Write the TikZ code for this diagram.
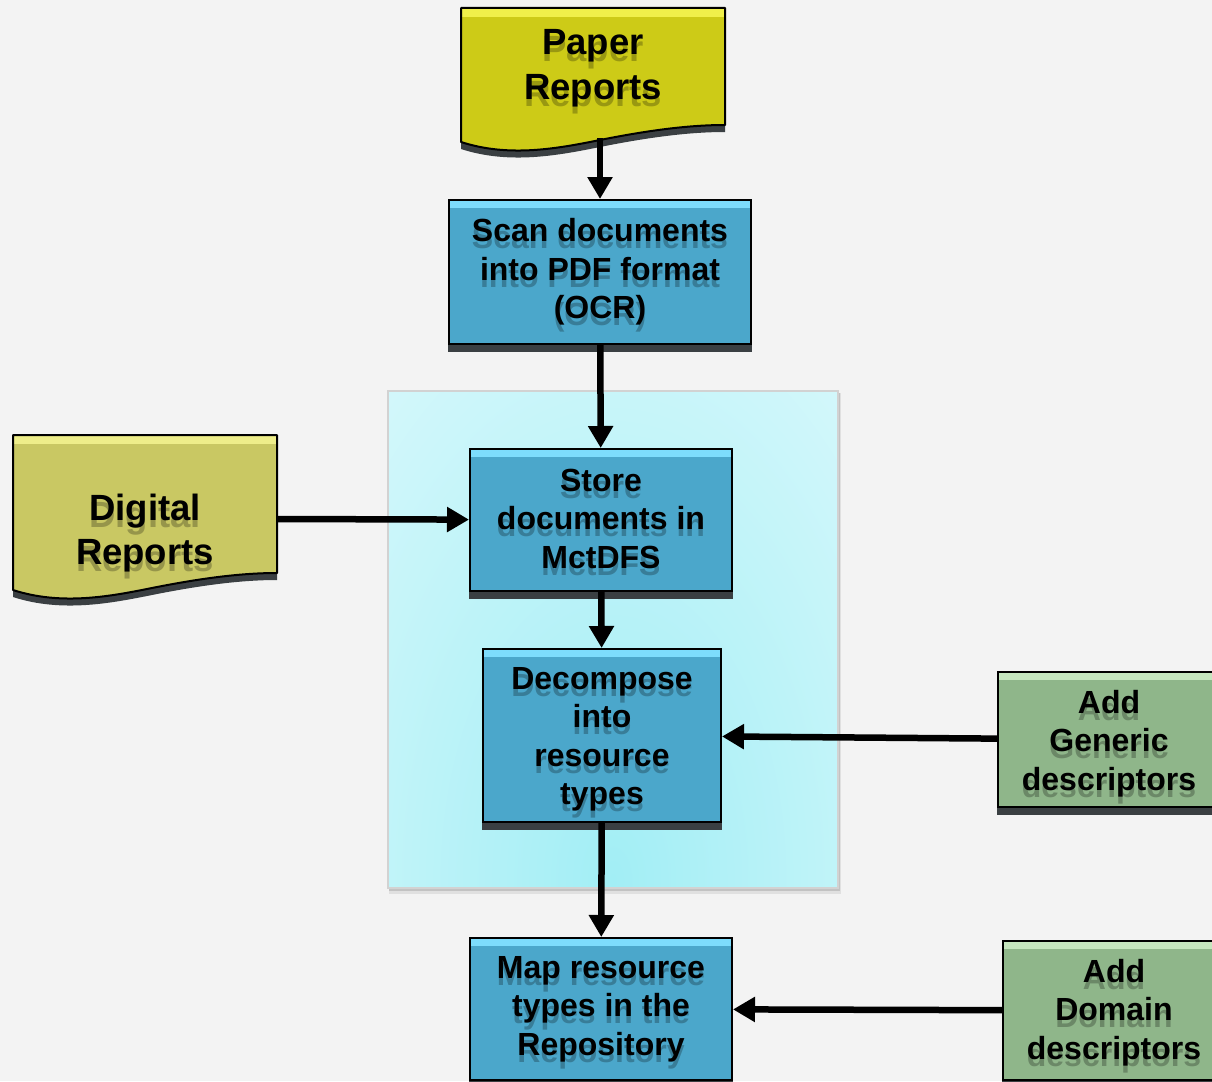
\documentclass[tikz,border=0pt]{standalone}
\usepackage{fontspec}
\setmainfont{Liberation Sans}
\usetikzlibrary{arrows.meta}

\definecolor{pagebg}{HTML}{F3F3F3}
\definecolor{procfill}{HTML}{4BA7CB}
\definecolor{prochi}{HTML}{7DDCFC}
\definecolor{paperfill}{HTML}{CDCB17}
\definecolor{paperhi}{HTML}{F0F04A}
\definecolor{digifill}{HTML}{C9C863}
\definecolor{digihi}{HTML}{EEEE8A}
\definecolor{descfill}{HTML}{8FB68A}
\definecolor{deschi}{HTML}{C5E6BE}
\definecolor{dropshade}{HTML}{3A3F42}
\definecolor{panelin}{HTML}{A2EEF5}
\definecolor{panelout}{HTML}{E6FBFD}
\definecolor{panelrim}{HTML}{D2D2D2}

\pgfdeclarelayer{backdrop}
\pgfdeclarelayer{shadows}
\pgfsetlayers{backdrop,shadows,main}

\tikzset{
  flowarrow/.style={line width=6.5pt, -{Triangle[width=24pt,length=22pt]}},
  bigfont/.style={font=\bfseries\fontsize{36.5}{44.5}\selectfont},
  smallfont/.style={font=\bfseries\fontsize{32}{38.5}\selectfont},
  boxbase/.style={draw=black, line width=2pt, inner sep=0pt},
  striped/.style={path picture={\fill[#1] (path picture bounding box.north west)
      rectangle ([yshift=-8pt]path picture bounding box.north east);}},
  procbox/.style={boxbase, fill=procfill, striped=prochi},
  descbox/.style={boxbase, fill=descfill, striped=deschi},
  echo/.style={align=center, inner sep=0pt, text=black, text opacity=0.25},
  boxtext/.style={align=center, inner sep=0pt, smallfont},
  doctext/.style={align=center, inner sep=0pt, bigfont},
  boxshadow/.style={fill=dropshade},
}

% box, its drop shadow, its text and the text's faded echo
% #1 style, #2 name, #3 #4 centre, #5 #6 size, #7 text offset, #8 text
\newcommand\flowbox[8]{%
  \node[#1, minimum width=#5pt, minimum height=#6pt] (#2) at (#3,#4) {};
  \begin{pgfonlayer}{shadows}
    \fill[boxshadow] ([yshift=-7pt]#2.south west) rectangle (#2.north east);
  \end{pgfonlayer}
  \node[echo, smallfont] (#2-echo) at (#3,#4+#7+7) {#8};
  \node[boxtext] (#2-text) at (#3,#4+#7) {#8};}

% document outline: left x, top y, bottom-left y
\newcommand\docoutline[3]{(#1,#2) -- (#1+264,#2) -- (#1+264,#3-17)
  .. controls (#1+229,#3-17) and (#1+189,#3-12) .. (#1+139,#3-2)
  .. controls (#1+99,#3+6) and (#1+49,#3+16) .. (#1,#3) -- cycle}

\newcommand\docshape[5]{%
  \begin{pgfonlayer}{shadows}
    \fill[boxshadow, yshift=-7pt] \docoutline{#1}{#2}{#3};
  \end{pgfonlayer}
  \fill[#4] \docoutline{#1}{#2}{#3};
  \begin{scope}
    \clip \docoutline{#1}{#2}{#3};
    \fill[#5] (#1,#2) rectangle (#1+264,#2+9);
  \end{scope}
  \draw[line width=2pt, line join=round] \docoutline{#1}{#2}{#3};}

\begin{document}
\begin{tikzpicture}[x=1pt, y=-1pt]
\useasboundingbox (0,0) rectangle (1212,1081);
\clip (0,0) rectangle (1212,1081);

% page and the storage panel
\begin{pgfonlayer}{backdrop}
  \fill[pagebg] (0,0) rectangle (1212,1081);
  \fill[black!12] (389,393) rectangle (841,894);
  \fill[black!24] (389,393) rectangle (840,891);
  \begin{scope}
    \clip (388,391) rectangle (838,888);
    \fill[panelout] (388,391) rectangle (838,888);
    \shade[inner color=panelin, outer color=panelout] (613,880) ellipse (500 and 880);
  \end{scope}
  \draw[panelrim, line width=2.5pt] (388,391) rectangle (838,888);
\end{pgfonlayer}

% source documents
\docshape{461}{8}{142}{paperfill}{paperhi}
\node[echo, bigfont] (paper-echo) at (593,75) {Paper\\Reports};
\node[doctext] (paper) at (593,68) {Paper\\Reports};
\coordinate (paper-out) at (600,138);

\docshape{13}{435}{590}{digifill}{digihi}
\node[echo, bigfont] (digital-echo) at (145,540) {Digital\\Reports};
\node[doctext] (digital) at (145,533) {Digital\\Reports};
\coordinate (digital-out) at (277,519);

% processing steps
\flowbox{procbox}{scan}{600}{272}{302}{144}{0}{Scan documents\\into PDF format\\(OCR)}
\flowbox{procbox}{store}{601}{520}{262}{142}{-1.5}{Store\\documents in\\MctDFS}
\flowbox{procbox}{decomp}{602}{735.5}{238}{173}{4}{Decompose\\into\\resource\\types}
\flowbox{procbox}{map}{601}{1009}{262}{142}{0}{Map resource\\types in the\\Repository}

% descriptor inputs
\flowbox{descbox}{generic}{1109}{739.5}{222}{135}{4}{Add\\Generic\\descriptors}
\flowbox{descbox}{domain}{1114}{1010.5}{222}{139}{2}{Add\\Domain\\descriptors}

% connectors
\draw[flowarrow] (paper-out) -- (scan);
\draw[flowarrow] (scan) -- (store);
\draw[flowarrow] (digital-out) -- (store);
\draw[flowarrow] (store) -- (decomp);
\draw[flowarrow] (generic) -- (decomp);
\draw[flowarrow] (decomp) -- (map);
\draw[flowarrow] (domain) -- (map);
\end{tikzpicture}
\end{document}
